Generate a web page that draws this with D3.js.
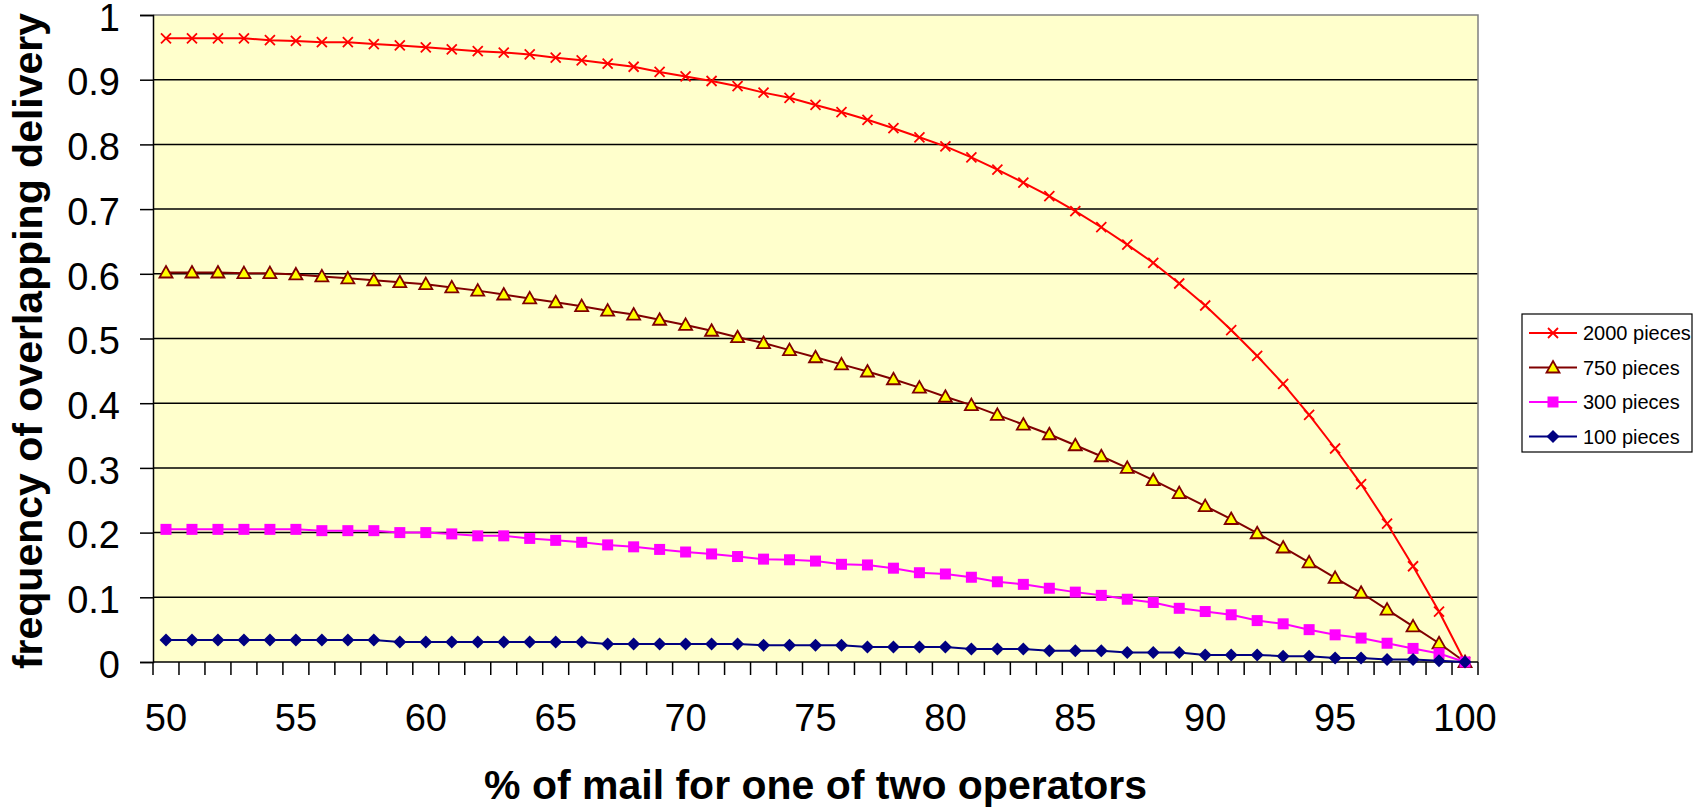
<!DOCTYPE html>
<html>
<head>
<meta charset="utf-8">
<script src="https://cdnjs.cloudflare.com/ajax/libs/d3/7.8.5/d3.min.js"></script>
<style>
  body { margin: 0; background: #fff; }
  text { font-family: "Liberation Sans", Arial, sans-serif; }
</style>
</head>
<body>
<div id="chart"></div>
<script>
// % of mail for one operator (categories on x)
const categories = [50, 51, 52, 53, 54, 55, 56, 57, 58, 59, 60, 61, 62, 63, 64, 65, 66, 67, 68, 69,
  70, 71, 72, 73, 74, 75, 76, 77, 78, 79, 80, 81, 82, 83, 84, 85, 86, 87, 88, 89,
  90, 91, 92, 93, 94, 95, 96, 97, 98, 99, 100];
const xTickLabels = [50, 55, 60, 65, 70, 75, 80, 85, 90, 95, 100];
const yTicks = [0, 0.1, 0.2, 0.3, 0.4, 0.5, 0.6, 0.7, 0.8, 0.9, 1];

const pieces2000 = [0.964, 0.964, 0.964, 0.964, 0.961, 0.960, 0.958, 0.958, 0.955, 0.953,
  0.950, 0.947, 0.944, 0.942, 0.939, 0.934, 0.930, 0.925, 0.920, 0.912,
  0.905, 0.898, 0.890, 0.880, 0.872, 0.861, 0.850, 0.838, 0.825, 0.811,
  0.797, 0.780, 0.761, 0.741, 0.720, 0.697, 0.672, 0.645, 0.617, 0.585,
  0.551, 0.513, 0.473, 0.430, 0.382, 0.330, 0.275, 0.214, 0.148, 0.078, 0];
const pieces750 = [0.602, 0.602, 0.602, 0.601, 0.601, 0.599, 0.596, 0.593, 0.590, 0.587,
  0.584, 0.579, 0.574, 0.568, 0.562, 0.556, 0.550, 0.543, 0.537, 0.529,
  0.521, 0.512, 0.502, 0.493, 0.482, 0.471, 0.460, 0.449, 0.437, 0.424,
  0.410, 0.397, 0.382, 0.367, 0.352, 0.335, 0.318, 0.300, 0.281, 0.261,
  0.241, 0.221, 0.199, 0.177, 0.154, 0.130, 0.107, 0.081, 0.055, 0.029, 0];
const pieces300 = [0.205, 0.205, 0.205, 0.205, 0.205, 0.205, 0.203, 0.203, 0.203, 0.200,
  0.200, 0.198, 0.195, 0.195, 0.191, 0.188, 0.185, 0.181, 0.178, 0.174,
  0.170, 0.167, 0.163, 0.159, 0.158, 0.156, 0.151, 0.150, 0.145, 0.138,
  0.136, 0.131, 0.124, 0.120, 0.114, 0.108, 0.103, 0.097, 0.092, 0.083,
  0.078, 0.073, 0.064, 0.059, 0.050, 0.042, 0.037, 0.029, 0.021, 0.013, 0];
const pieces100 = [0.034, 0.034, 0.034, 0.034, 0.034, 0.034, 0.034, 0.034, 0.034, 0.031,
  0.031, 0.031, 0.031, 0.031, 0.031, 0.031, 0.031, 0.028, 0.028, 0.028,
  0.028, 0.028, 0.028, 0.026, 0.026, 0.026, 0.026, 0.023, 0.023, 0.023,
  0.023, 0.020, 0.020, 0.020, 0.0175, 0.0175, 0.0175, 0.0145, 0.0145, 0.0145,
  0.011, 0.011, 0.011, 0.009, 0.009, 0.006, 0.006, 0.004, 0.004, 0.002, 0];

const seriesNames = ["2000 pieces", "750 pieces", "300 pieces", "100 pieces"];

const series = [
  { name: seriesNames[0], values: pieces2000, color: "#ff0000", marker: "cross" },
  { name: seriesNames[1], values: pieces750, color: "#800000", marker: "triangle" },
  { name: seriesNames[2], values: pieces300, color: "#ff00ff", marker: "square" },
  { name: seriesNames[3], values: pieces100, color: "#000080", marker: "diamond" }
];

const W = 1694, H = 808;
const plot = { left: 153, right: 1478, top: 15, bottom: 662 };

const svg = d3.select("#chart").append("svg")
  .attr("width", W).attr("height", H);

const x = d3.scaleBand().domain(categories).range([plot.left, plot.right]).padding(0);
const y = d3.scaleLinear().domain([0, 1]).range([plot.bottom, plot.top]);

// plot background
svg.append("rect")
  .attr("x", plot.left).attr("y", plot.top)
  .attr("width", plot.right - plot.left).attr("height", plot.bottom - plot.top)
  .attr("fill", "#ffffcc");

// gridlines
svg.append("g")
  .selectAll("line")
  .data(yTicks.filter(d => d > 0 && d < 1))
  .enter().append("line")
  .attr("x1", plot.left).attr("x2", plot.right)
  .attr("y1", d => y(d)).attr("y2", d => y(d))
  .attr("stroke", "#000").attr("stroke-width", 1.5);

// top / right border (grey)
svg.append("path")
  .attr("d", `M${plot.left},${plot.top}H${plot.right}V${plot.bottom}`)
  .attr("fill", "none").attr("stroke", "#808080").attr("stroke-width", 1.5);

// y axis
const yAxis = d3.axisLeft(y).tickValues(yTicks).tickSize(13).tickPadding(20)
  .tickFormat(d => d === 0 ? "0" : d === 1 ? "1" : d3.format(".1f")(d));
svg.append("g")
  .attr("transform", `translate(${plot.left},0)`)
  .call(yAxis)
  .call(g => g.select(".domain").attr("stroke", "#000").attr("stroke-width", 1.5))
  .call(g => g.selectAll(".tick line").attr("stroke", "#000").attr("stroke-width", 1.5))
  .call(g => g.selectAll(".tick text")
    .attr("font-size", 38).attr("fill", "#000").attr("dy", "0.4em")
    .style("font-family", '"Liberation Sans", Arial, sans-serif'));

// x axis: ticks between categories, labels every 5
const step = x.step();
svg.append("line")
  .attr("x1", plot.left).attr("x2", plot.right)
  .attr("y1", plot.bottom).attr("y2", plot.bottom)
  .attr("stroke", "#000").attr("stroke-width", 1.5);
svg.append("g")
  .selectAll("line")
  .data(categories.concat([null]))
  .enter().append("line")
  .attr("x1", (d, i) => plot.left + i * step)
  .attr("x2", (d, i) => plot.left + i * step)
  .attr("y1", plot.bottom).attr("y2", plot.bottom + 13)
  .attr("stroke", "#000").attr("stroke-width", 1.5);
svg.append("g")
  .selectAll("text")
  .data(xTickLabels)
  .enter().append("text")
  .attr("x", d => x(d) + x.bandwidth() / 2)
  .attr("y", 731)
  .attr("text-anchor", "middle")
  .attr("font-size", 38)
  .text(d => d);

// axis titles
svg.append("text")
  .attr("x", (plot.left + plot.right) / 2).attr("y", 799)
  .attr("text-anchor", "middle")
  .attr("font-size", 41).attr("font-weight", "bold")
  .text("% of mail for one of two operators");
svg.append("text")
  .attr("transform", "translate(42,341) rotate(-90)")
  .attr("text-anchor", "middle")
  .attr("font-size", 41).attr("font-weight", "bold")
  .text("frequency of overlapping delivery");

function drawMarker(g, type, color) {
  if (type === "cross") {
    g.append("path").attr("d", "M-5,-5L5,5M-5,5L5,-5")
      .attr("stroke", color).attr("stroke-width", 1.8).attr("fill", "none");
  } else if (type === "triangle") {
    g.append("path").attr("d", "M0,-6.5L6.5,5L-6.5,5Z")
      .attr("fill", "#ffff00").attr("stroke", color).attr("stroke-width", 1.8);
  } else if (type === "square") {
    g.append("rect").attr("x", -5.5).attr("y", -5.5).attr("width", 11).attr("height", 11)
      .attr("fill", color);
  } else if (type === "diamond") {
    g.append("path").attr("d", "M0,-6.5L6.5,0L0,6.5L-6.5,0Z").attr("fill", color);
  }
}

const line = d3.line()
  .x((d, i) => x(categories[i]) + x.bandwidth() / 2)
  .y(d => y(d));

series.forEach(s => {
  const g = svg.append("g");
  g.append("path")
    .attr("d", line(s.values))
    .attr("fill", "none").attr("stroke", s.color).attr("stroke-width", 2);
  s.values.forEach((v, i) => {
    const m = g.append("g")
      .attr("transform", `translate(${x(categories[i]) + x.bandwidth() / 2},${y(v)})`);
    drawMarker(m, s.marker, s.color);
  });
});

// legend
const legend = svg.append("g");
legend.append("rect")
  .attr("x", 1522).attr("y", 314).attr("width", 170).attr("height", 138)
  .attr("fill", "#fff").attr("stroke", "#000").attr("stroke-width", 1.2);
series.forEach((s, i) => {
  const cy = 333 + i * 34.5;
  const row = legend.append("g");
  row.append("line")
    .attr("x1", 1529).attr("x2", 1577).attr("y1", cy).attr("y2", cy)
    .attr("stroke", s.color).attr("stroke-width", 2);
  drawMarker(row.append("g").attr("transform", `translate(1553,${cy})`), s.marker, s.color);
  row.append("text")
    .attr("x", 1583).attr("y", cy + 7)
    .attr("font-size", 20)
    .text(s.name);
});
</script>
</body>
</html>
